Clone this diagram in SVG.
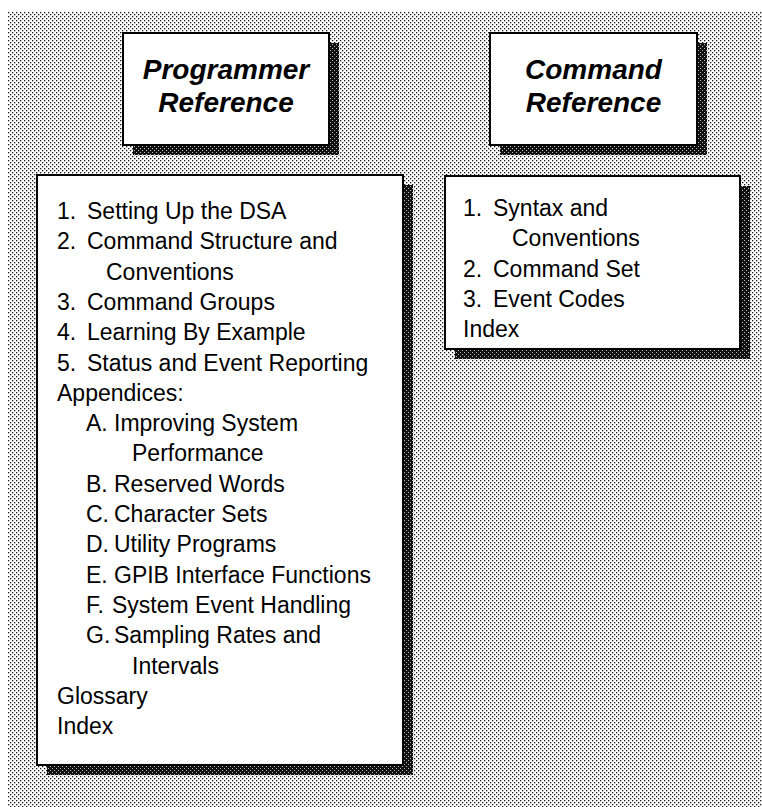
<svg xmlns="http://www.w3.org/2000/svg" width="762" height="807" viewBox="0 0 762 807">
<defs>
<pattern id="bg" width="4" height="4" patternUnits="userSpaceOnUse">
<rect width="4" height="4" fill="#ffffff"/>
<rect x="0" y="0" width="1.3" height="1.3" fill="#1a1a1a"/>
<rect x="2" y="2" width="1.3" height="1.3" fill="#1a1a1a"/>
</pattern>
<pattern id="sh" width="4" height="4" patternUnits="userSpaceOnUse">
<rect width="4" height="4" fill="#111111"/>
<rect x="0" y="0" width="1" height="1" fill="#bbbbbb"/>
<rect x="2" y="2" width="1" height="1" fill="#bbbbbb"/>
</pattern>
</defs>
<style>
.box{fill:#ffffff;stroke:#000000;stroke-width:2}
.shadow{fill:url(#sh)}
.title{font-family:"Liberation Sans",Arial,sans-serif;font-weight:bold;font-style:italic;font-size:28px;fill:#000;text-anchor:middle}
.item{font-family:"Liberation Sans",Arial,sans-serif;font-size:23px;fill:#000}
</style>
<rect x="8" y="12" width="754" height="795" fill="url(#bg)"/>

<g id="programmer-title">
<rect class="shadow" x="133" y="43" width="206" height="112"/>
<rect class="box" x="123" y="33" width="206" height="112"/>
<text class="title" x="226" y="79">Programmer</text>
<text class="title" x="226" y="112">Reference</text>
</g>

<g id="command-title">
<rect class="shadow" x="500" y="43" width="207" height="112"/>
<rect class="box" x="490" y="33" width="207" height="112"/>
<text class="title" x="593.5" y="79">Command</text>
<text class="title" x="593.5" y="112">Reference</text>
</g>

<g id="programmer-contents">
<rect class="shadow" x="47" y="185" width="366" height="590"/>
<rect class="box" x="37" y="175" width="366" height="590"/>
<text class="item" y="219"><tspan x="57">1. </tspan><tspan x="87">Setting Up the DSA</tspan></text>
<text class="item" y="249.3"><tspan x="57">2. </tspan><tspan x="87">Command Structure and</tspan></text>
<text class="item" x="106" y="279.6">Conventions</text>
<text class="item" y="309.9"><tspan x="57">3. </tspan><tspan x="87">Command Groups</tspan></text>
<text class="item" y="340.2"><tspan x="57">4. </tspan><tspan x="87">Learning By Example</tspan></text>
<text class="item" y="370.5"><tspan x="57">5. </tspan><tspan x="87">Status and Event Reporting</tspan></text>
<text class="item" x="57" y="400.8">Appendices:</text>
<text class="item" y="431.1"><tspan x="86">A. </tspan><tspan x="114">Improving System</tspan></text>
<text class="item" x="132" y="461.4">Performance</text>
<text class="item" y="491.7"><tspan x="86">B. </tspan><tspan x="114">Reserved Words</tspan></text>
<text class="item" y="522"><tspan x="86">C. </tspan><tspan x="114">Character Sets</tspan></text>
<text class="item" y="552.3"><tspan x="86">D. </tspan><tspan x="114">Utility Programs</tspan></text>
<text class="item" y="582.6"><tspan x="86">E. </tspan><tspan x="114">GPIB Interface Functions</tspan></text>
<text class="item" y="612.9"><tspan x="86">F. </tspan><tspan x="112">System Event Handling</tspan></text>
<text class="item" y="643.2"><tspan x="86">G. </tspan><tspan x="114">Sampling Rates and</tspan></text>
<text class="item" x="132" y="673.5">Intervals</text>
<text class="item" x="57" y="703.8">Glossary</text>
<text class="item" x="57" y="734.1">Index</text>
</g>

<g id="command-contents">
<rect class="shadow" x="455" y="186" width="295" height="173"/>
<rect class="box" x="445" y="176" width="295" height="173"/>
<text class="item" y="216"><tspan x="463">1. </tspan><tspan x="493">Syntax and</tspan></text>
<text class="item" x="512" y="246.3">Conventions</text>
<text class="item" y="276.6"><tspan x="463">2. </tspan><tspan x="493">Command Set</tspan></text>
<text class="item" y="306.9"><tspan x="463">3. </tspan><tspan x="493">Event Codes</tspan></text>
<text class="item" x="463" y="337.2">Index</text>
</g>
<g id="connectors"/>
</svg>
